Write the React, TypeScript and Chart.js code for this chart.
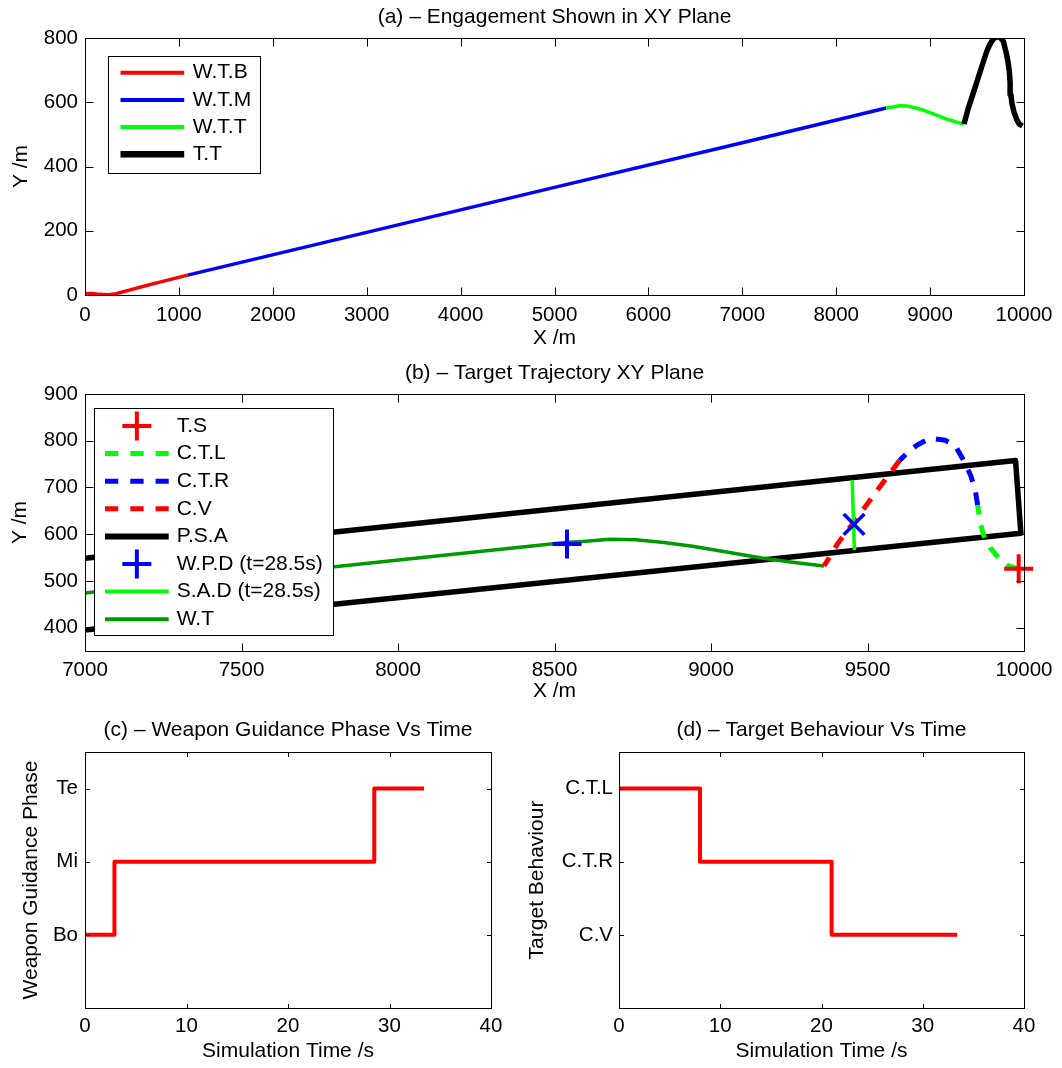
import { useEffect, useRef } from "react";
import { Chart, registerables } from "chart.js";

Chart.register(...registerables);

const FONT = '"Liberation Sans", Arial, Helvetica, sans-serif';
Chart.defaults.font.family = FONT;
Chart.defaults.color = "#000";

// ---- (a) weapon trajectory, split by guidance phase ----
const boostX = [0, 80, 150, 250, 330, 700, 1093];
const boostY = [4, 5, 2, 1, 4, 33, 62];
const midX = [1093, 3000, 5000, 7000, 8534];
const midY = [62, 195, 335, 474, 582];
const termX = [8534, 8600, 8676, 8760, 8850, 8941, 9050, 9162, 9260, 9361];
const termY = [582, 585, 589, 588, 582, 574, 562, 549, 540, 532];

// ---- target manoeuvres (time order: C.T.L -> C.T.R -> C.V) ----
const ctlX = [9983, 9950, 9923, 9893, 9872, 9860, 9852];
const ctlY = [526, 532, 546, 570, 596, 624, 662];
const ctrX = [9852, 9844, 9830, 9812, 9780, 9748, 9714, 9685, 9659, 9630, 9603];
const ctrY = [662, 695, 725, 752, 790, 801, 804, 800, 791, 776, 758];
const cvX = [9603, 9548, 9493, 9450, 9405, 9380, 9361];
const cvY = [758, 709, 659, 620, 580, 552, 532];

// ---- (b) search area outline and event markers ----
const psaX = [7000, 9973, 9990, 7000];
const psaY = [548.6, 757.8, 602, 395];
const tsX = [9983];
const tsY = [526];
const wpdX = [8540];
const wpdY = [579];
const sadX = [9451, 9458];
const sadY = [716, 566];
const crossX = [9457];
const crossY = [621];

// ---- (c)/(d) phase histories ----
const phaseTime = [0, 2.9, 28.5, 33.4];
const phaseLevel = [1, 2, 3, 3];
const phaseNames = ["", "Bo", "Mi", "Te"];
const behaviourTime = [0, 8, 21, 33.4];
const behaviourLevel = [3, 2, 1, 1];
const behaviourNames = ["", "C.V", "C.T.R", "C.T.L"];

// ---- tick values ----
const aXTicks = [0, 1000, 2000, 3000, 4000, 5000, 6000, 7000, 8000, 9000, 10000];
const aYTicks = [0, 200, 400, 600, 800];
const bXTicks = [7000, 7500, 8000, 8500, 9000, 9500, 10000];
const bYTicks = [400, 500, 600, 700, 800, 900];
const timeTicks = [0, 10, 20, 30, 40];
const levelTicks = [1, 2, 3];

const RED = "#ff0000";
const BLUE = "#0000ff";
const GREEN = "#00ff00";
const DKGREEN = "#009900";
const BLACK = "#000000";
const DASH = [13, 11];

const pts = (xs: number[], ys: number[]) => xs.map((x, i) => ({ x, y: ys[i] }));

const lineSet = (xs: number[], ys: number[], color: string, width: number, dash: number[] = []) => ({
  data: pts(xs, ys),
  showLine: true,
  borderColor: color,
  backgroundColor: color,
  borderWidth: width,
  borderDash: dash,
  borderCapStyle: "butt",
  borderJoinStyle: "round",
  pointRadius: 0,
  tension: 0,
  fill: false,
});

const markerSet = (xs: number[], ys: number[], color: string, style: string, r: number, w: number) => ({
  data: pts(xs, ys),
  showLine: false,
  pointStyle: style,
  pointRadius: r,
  pointBorderWidth: w,
  pointBorderColor: color,
  pointBackgroundColor: color,
  clip: false,
});

type LegendItem = { label: string; color: string; width: number; dash?: number[]; marker?: boolean };
type LegendSpec = {
  x0: number; y0: number; x1: number; y1: number;
  row0: number; rowStep: number; sx0: number; sx1: number; tx: number;
  items: LegendItem[];
};

// Box, inward tick marks on all four sides, centred title and legend
function framePlugin(title: string, titleY: number, tickLen: number, legend?: LegendSpec) {
  return {
    id: "frame",
    afterDraw(chart: any) {
      const { ctx, chartArea: a, scales } = chart;
      const L = Math.round(a.left) + 0.5;
      const R = Math.round(a.right) + 0.5;
      const T = Math.round(a.top) + 0.5;
      const B = Math.round(a.bottom) + 0.5;
      ctx.save();
      ctx.setLineDash([]);
      ctx.strokeStyle = "#000";
      ctx.lineWidth = 1;
      ctx.beginPath();
      for (const t of scales.x.ticks) {
        const px = Math.round(scales.x.getPixelForValue(t.value)) + 0.5;
        ctx.moveTo(px, B);
        ctx.lineTo(px, B - tickLen);
        ctx.moveTo(px, T);
        ctx.lineTo(px, T + tickLen);
      }
      for (const t of scales.y.ticks) {
        const py = Math.round(scales.y.getPixelForValue(t.value)) + 0.5;
        ctx.moveTo(L, py);
        ctx.lineTo(L + tickLen, py);
        ctx.moveTo(R, py);
        ctx.lineTo(R - tickLen, py);
      }
      ctx.stroke();
      ctx.strokeRect(L, T, R - L, B - T);

      ctx.fillStyle = "#000";
      ctx.font = `21px ${FONT}`;
      ctx.textAlign = "center";
      ctx.textBaseline = "middle";
      ctx.fillText(title, (a.left + a.right) / 2, titleY);

      if (legend) {
        const g = legend;
        ctx.fillStyle = "#fff";
        ctx.fillRect(g.x0, g.y0, g.x1 - g.x0, g.y1 - g.y0);
        ctx.strokeStyle = "#000";
        ctx.lineWidth = 1;
        ctx.strokeRect(Math.round(g.x0) + 0.5, Math.round(g.y0) + 0.5, Math.round(g.x1 - g.x0), Math.round(g.y1 - g.y0));
        g.items.forEach((it, i) => {
          const y = g.row0 + i * g.rowStep;
          ctx.strokeStyle = it.color;
          ctx.lineWidth = it.width;
          ctx.lineCap = "butt";
          ctx.beginPath();
          if (it.marker) {
            const cx = (g.sx0 + g.sx1) / 2;
            const r = 14.5;
            ctx.setLineDash([]);
            ctx.moveTo(cx - r, y);
            ctx.lineTo(cx + r, y);
            ctx.moveTo(cx, y - r);
            ctx.lineTo(cx, y + r);
          } else {
            ctx.setLineDash(it.dash ?? []);
            ctx.moveTo(g.sx0, y);
            ctx.lineTo(g.sx1, y);
          }
          ctx.stroke();
          ctx.setLineDash([]);
          ctx.fillStyle = "#000";
          ctx.font = `21px ${FONT}`;
          ctx.textAlign = "left";
          ctx.textBaseline = "middle";
          ctx.fillText(it.label, g.tx, y);
        });
      }
      ctx.restore();
    },
  };
}

type AxesSpec = {
  xMin: number; xMax: number; yMin: number; yMax: number;
  xTicks: number[]; yTicks: number[]; yNames?: string[];
  xLabel: string; yLabel: string;
  padTop: number; padRight: number; padBottom: number;
  yWidth: number; xHeight: number;
  xTickPad: number; yTickPad: number; xTitlePad: number; yTitlePad: number;
};

function axesOptions(p: AxesSpec) {
  return {
    animation: false,
    responsive: false,
    maintainAspectRatio: false,
    devicePixelRatio: 1,
    events: [],
    layout: { padding: { left: 0, top: p.padTop, right: p.padRight, bottom: p.padBottom } },
    plugins: { legend: { display: false }, tooltip: { enabled: false }, title: { display: false } },
    scales: {
      x: {
        type: "linear",
        position: "bottom",
        min: p.xMin,
        max: p.xMax,
        afterBuildTicks: (s: any) => {
          s.ticks = p.xTicks.map((value) => ({ value }));
        },
        afterFit: (s: any) => {
          s.height = p.xHeight;
        },
        grid: { display: false, drawTicks: false, tickLength: 0 },
        border: { display: false },
        ticks: {
          autoSkip: false,
          maxRotation: 0,
          minRotation: 0,
          padding: p.xTickPad,
          color: "#000",
          font: { size: 20.5 },
          callback: (v: any) => String(v),
        },
        title: {
          display: true,
          text: p.xLabel,
          color: "#000",
          font: { size: 21 },
          padding: { top: 0, bottom: p.xTitlePad },
        },
      },
      y: {
        type: "linear",
        position: "left",
        min: p.yMin,
        max: p.yMax,
        afterBuildTicks: (s: any) => {
          s.ticks = p.yTicks.map((value) => ({ value }));
        },
        afterFit: (s: any) => {
          s.width = p.yWidth;
        },
        grid: { display: false, drawTicks: false, tickLength: 0 },
        border: { display: false },
        ticks: {
          autoSkip: false,
          padding: p.yTickPad,
          color: "#000",
          font: { size: 20.5 },
          callback: (v: any) => (p.yNames ? p.yNames[v] ?? "" : String(v)),
        },
        title: {
          display: true,
          text: p.yLabel,
          color: "#000",
          font: { size: 21 },
          padding: { top: p.yTitlePad, bottom: 0 },
        },
      },
    },
  };
}

const ttX = [...ctlX, ...ctrX.slice(1), ...cvX.slice(1)];
const ttY = [...ctlY, ...ctrY.slice(1), ...cvY.slice(1)];
const wtX = [...boostX, ...midX.slice(1), ...termX.slice(1)];
const wtY = [...boostY, ...midY.slice(1), ...termY.slice(1)];

function engagementConfig() {
  return {
    type: "scatter",
    data: {
      datasets: [
        lineSet(ttX, ttY, BLACK, 5.5),
        lineSet(termX, termY, GREEN, 3.5),
        lineSet(midX, midY, BLUE, 3.5),
        lineSet(boostX, boostY, RED, 3.5),
      ],
    },
    options: axesOptions({
      xMin: 0, xMax: 10000, yMin: 0, yMax: 800,
      xTicks: aXTicks, yTicks: aYTicks,
      xLabel: "X /m", yLabel: "Y /m",
      padTop: 38, padRight: 38, padBottom: 5,
      yWidth: 85, xHeight: 56,
      xTickPad: 8, yTickPad: 7, xTitlePad: 0, yTitlePad: 9,
    }),
    plugins: [
      framePlugin("(a) \u2013 Engagement Shown in XY Plane", 17, 8, {
        x0: 108, y0: 56, x1: 260, y1: 173,
        row0: 72.7, rowStep: 27.2, sx0: 120.5, sx1: 184.2, tx: 192.8,
        items: [
          { label: "W.T.B", color: RED, width: 4 },
          { label: "W.T.M", color: BLUE, width: 4 },
          { label: "W.T.T", color: GREEN, width: 4 },
          { label: "T.T", color: BLACK, width: 6.5 },
        ],
      }),
    ],
  };
}

function targetConfig() {
  return {
    type: "scatter",
    data: {
      datasets: [
        markerSet(tsX, tsY, RED, "cross", 14.5, 4),
        markerSet(wpdX, wpdY, BLUE, "cross", 14.5, 4),
        markerSet(crossX, crossY, BLUE, "crossRot", 14.6, 3.5),
        lineSet(sadX, sadY, GREEN, 3.5),
        lineSet(ctlX, ctlY, GREEN, 5, DASH),
        lineSet(ctrX, ctrY, BLUE, 5, DASH),
        lineSet(cvX, cvY, RED, 5, DASH),
        lineSet(wtX, wtY, DKGREEN, 3.5),
        lineSet(psaX, psaY, BLACK, 5.5),
      ],
    },
    options: axesOptions({
      xMin: 7000, xMax: 10000, yMin: 350, yMax: 900,
      xTicks: bXTicks, yTicks: bYTicks,
      xLabel: "X /m", yLabel: "Y /m",
      padTop: 38, padRight: 38, padBottom: 1,
      yWidth: 85, xHeight: 56,
      xTickPad: 7, yTickPad: 7, xTitlePad: 3, yTitlePad: 8,
    }),
    plugins: [
      framePlugin("(b) \u2013 Target Trajectory XY Plane", 17.3, 8, {
        x0: 94, y0: 52, x1: 333, y1: 279,
        row0: 70, rowStep: 27.6, sx0: 105, sx1: 168.7, tx: 176.7,
        items: [
          { label: "T.S", color: RED, width: 4, marker: true },
          { label: "C.T.L", color: GREEN, width: 5, dash: [13.3, 12] },
          { label: "C.T.R", color: BLUE, width: 5, dash: [13.3, 12] },
          { label: "C.V", color: RED, width: 5, dash: [13.3, 12] },
          { label: "P.S.A", color: BLACK, width: 6 },
          { label: "W.P.D (t=28.5s)", color: BLUE, width: 4, marker: true },
          { label: "S.A.D (t=28.5s)", color: GREEN, width: 4 },
          { label: "W.T", color: DKGREEN, width: 4 },
        ],
      }),
    ],
  };
}

function phaseConfig() {
  return {
    type: "scatter",
    data: {
      datasets: [{ ...lineSet(phaseTime, phaseLevel, RED, 4), stepped: "before" }],
    },
    options: axesOptions({
      xMin: 0, xMax: 40, yMin: 0, yMax: 3.5,
      xTicks: timeTicks, yTicks: levelTicks, yNames: phaseNames,
      xLabel: "Simulation Time /s", yLabel: "Weapon Guidance Phase",
      padTop: 44, padRight: 40, padBottom: 2,
      yWidth: 85, xHeight: 58,
      xTickPad: 6, yTickPad: 7, xTitlePad: 2, yTitlePad: 18.4,
    }),
    plugins: [framePlugin("(c) \u2013 Weapon Guidance Phase Vs Time", 22, 4.5)],
  };
}

function behaviourConfig() {
  return {
    type: "scatter",
    data: {
      datasets: [{ ...lineSet(behaviourTime, behaviourLevel, RED, 4), stepped: "before" }],
    },
    options: axesOptions({
      xMin: 0, xMax: 40, yMin: 0, yMax: 3.5,
      xTicks: timeTicks, yTicks: levelTicks, yNames: behaviourNames,
      xLabel: "Simulation Time /s", yLabel: "Target Behaviour",
      padTop: 44, padRight: 38, padBottom: 2,
      yWidth: 108, xHeight: 58,
      xTickPad: 6, yTickPad: 6, xTitlePad: 2, yTitlePad: 13.7,
    }),
    plugins: [framePlugin("(d) \u2013 Target Behaviour Vs Time", 22, 4.5)],
  };
}

function Plot({ make, left, top, width, height }: { make: () => any; left: number; top: number; width: number; height: number }) {
  const ref = useRef<HTMLCanvasElement>(null);
  useEffect(() => {
    if (!ref.current) return;
    const chart = new Chart(ref.current, make());
    return () => chart.destroy();
  }, [make]);
  return (
    <canvas
      ref={ref}
      width={width}
      height={height}
      style={{ position: "absolute", left, top, width, height, display: "block" }}
    />
  );
}

export default function App() {
  return (
    <div style={{ position: "absolute", left: 0, top: 0, width: 1062, height: 1068, background: "#fff", overflow: "hidden" }}>
      <Plot make={engagementConfig} left={0} top={0} width={1062} height={356} />
      <Plot make={targetConfig} left={0} top={356} width={1062} height={352} />
      <Plot make={phaseConfig} left={0} top={708} width={531} height={360} />
      <Plot make={behaviourConfig} left={511} top={708} width={551} height={360} />
    </div>
  );
}
